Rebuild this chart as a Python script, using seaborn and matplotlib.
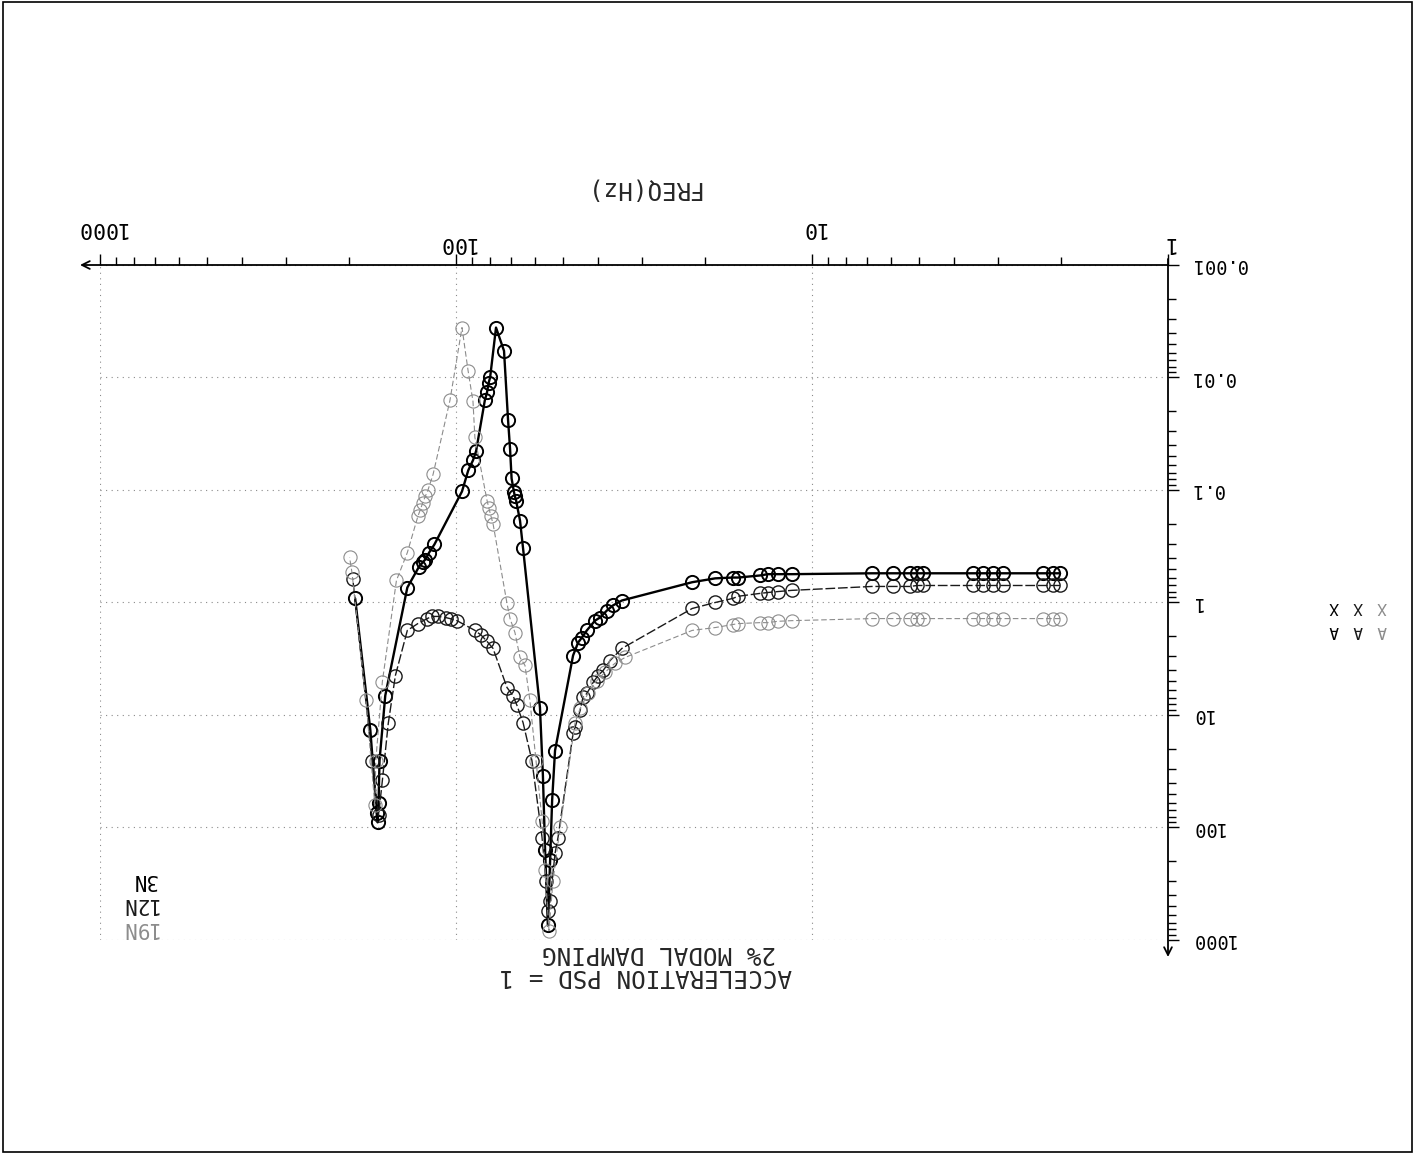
import matplotlib
matplotlib.use("Agg")
import matplotlib.pyplot as plt
from matplotlib.patches import Rectangle
from matplotlib.ticker import LogLocator, NullFormatter
import pandas as pd
import seaborn as sns

# ---- data: response PSD vs frequency for three preload cases ----
freq_3n = [2.01, 2.10, 2.24, 2.91, 3.10, 3.31, 3.53, 4.88, 5.07, 5.30, 5.92, 6.78,
           11.4, 12.5, 13.3, 14.0, 16.1, 16.7, 18.7, 21.7,
           34.2, 36.2, 37.7, 39.4, 40.7, 42.9, 44.3, 45.4, 46.9,
           52.7, 53.7, 54.4, 55.2, 56.2, 57.0, 58.1,
           64.8, 66.1, 67.8, 68.3, 68.7, 69.8, 70.5, 71.4, 73.3, 77.2,
           80.2, 81.0, 81.8, 83.0, 87.8, 89.6, 92.4, 96.2,
           115, 119, 122, 124, 127, 137, 158, 164, 165, 166, 167, 174, 192]
psd_3n = [0.55, 0.55, 0.55, 0.55, 0.55, 0.55, 0.55, 0.55, 0.55, 0.55, 0.55, 0.55,
          0.56, 0.56, 0.56, 0.575, 0.60, 0.60, 0.61, 0.66,
          0.96, 1.06, 1.18, 1.36, 1.45, 1.77, 2.05, 2.27, 2.96,
          20.7, 57.5, 196, 743, 160, 34.5, 8.58,
          0.331, 0.187, 0.124, 0.114, 0.105, 0.079, 0.0428, 0.0241, 0.0058, 0.0036,
          0.0100, 0.0112, 0.0135, 0.0160, 0.0450, 0.0545, 0.0670, 0.103,
          0.305, 0.36, 0.415, 0.44, 0.48, 0.736, 6.71, 25.4, 60.0, 90.0, 75.0, 13.7, 0.92]

freq_12n = [2.01, 2.10, 2.24, 2.91, 3.10, 3.31, 3.53, 4.88, 5.07, 5.30, 5.92, 6.78,
            11.4, 12.5, 13.3, 14.0, 16.1, 16.7, 18.7, 21.7,
            34.2, 36.9, 38.6, 39.9, 41.2, 42.9, 44.0, 44.8, 46.3, 46.9,
            51.7, 52.7, 54.4, 55.2, 55.9, 57.3, 61.2,
            64.8, 67.4, 69.2, 71.9, 78.7, 82.0, 85.0, 88.5, 99.4, 103, 107, 112, 117,
            121, 128, 137, 148, 155, 161, 165, 172, 195]
psd_12n = [0.706, 0.706, 0.706, 0.706, 0.706, 0.706, 0.706, 0.706, 0.706, 0.72, 0.72, 0.72,
           0.78, 0.80, 0.815, 0.83, 0.88, 0.92, 1.0, 1.13,
           2.56, 3.28, 4.02, 4.46, 5.14, 6.44, 6.98, 9.12, 12.9, 14.6,
           123, 170, 446, 547, 296, 123, 25.4,
           11.7, 8.23, 6.71, 5.70, 2.56, 2.2, 1.95, 1.77, 1.45, 1.40, 1.36, 1.33, 1.33,
           1.40, 1.54, 1.77, 4.46, 11.9, 38.2, 78.2, 25.4, 0.612]

freq_19n = [2.01, 2.10, 2.24, 2.91, 3.10, 3.31, 3.53, 4.88, 5.07, 5.30, 5.92, 6.78,
            11.4, 12.5, 13.3, 14.0, 16.1, 16.7, 18.7, 21.7,
            33.5, 35.8, 38.2, 40.2, 42.6, 44.8, 46.3,
            51.0, 53.4, 54.8, 56.2, 57.3, 59.6, 62.0, 64.0, 66.1, 68.3, 70.5, 71.9,
            78.7, 79.8, 80.8, 81.8, 88.5, 89.6, 92.5, 96.2,
            104, 116, 120, 122, 124, 126, 128, 137, 147, 161, 168, 169, 179, 196, 199]
psd_19n = [1.39, 1.39, 1.39, 1.39, 1.39, 1.39, 1.39, 1.39, 1.39, 1.39, 1.39, 1.39,
           1.45, 1.47, 1.51, 1.51, 1.54, 1.57, 1.67, 1.77,
           3.08, 3.48, 4.19, 4.94, 6.44, 8.75, 11.7,
           100, 296, 824, 241, 86.7, 25.4, 7.43, 3.63, 3.08, 1.85, 1.39, 1.02,
           0.199, 0.17, 0.146, 0.124, 0.0341, 0.0163, 0.00867, 0.0036,
           0.016, 0.0728, 0.101, 0.114, 0.13, 0.15, 0.172, 0.36, 0.637, 5.04, 25.4, 63.7, 7.43,
           0.541, 0.398]

case_labels = ["3N", "12N", "19N"]
x_tick_values = [1000, 100, 10, 1]
x_tick_text = ["1000", "100", "10", "1"]
y_tick_values = [0.001, 0.01, 0.1, 1, 10, 100, 1000]
y_tick_text = ["0.001", "0.01", "0.1", "1", "10", "100", "1000"]

W, H = 1417, 1159
sns.set_style("white")
plt.rcParams["font.family"] = ["DejaVu Sans Mono", "DejaVu Sans"]

fig = plt.figure(figsize=(W / 100, H / 100), dpi=100)
ax = fig.add_axes([100 / W, 1 - 940 / H, 1068 / W, 675 / H])
ax.set_xscale("log")
ax.set_yscale("log")

styles = [
    dict(color="black", lw=1.7, mew=1.4, ls="-"),
    dict(color="#1a1a1a", lw=1.0, mew=1.0, ls=(0, (7, 2))),
    dict(color="#8c8c8c", lw=0.8, mew=0.8, ls=(0, (5, 2.5))),
]
series = [(freq_3n, psd_3n), (freq_12n, psd_12n), (freq_19n, psd_19n)]
for (fx, py), lab, st in zip(series, case_labels, styles):
    df = pd.DataFrame({"freq": fx, "psd": py})
    sns.lineplot(data=df, x="freq", y="psd", ax=ax, sort=False, estimator=None,
                 color=st["color"], linewidth=st["lw"], linestyle=st["ls"],
                 marker="o", markersize=9.5, markerfacecolor="none",
                 mec=st["color"], mew=st["mew"], legend=False)

# reversed axes: 1 Hz on the right, 0.001 at the top
ax.set_xlim(1000, 1)
ax.set_ylim(1000, 0.001)
ax.set_xlabel("")
ax.set_ylabel("")

for s in ax.spines.values():
    s.set_visible(False)

ax.xaxis.set_major_locator(LogLocator(base=10, numticks=10))
ax.xaxis.set_minor_locator(LogLocator(base=10, subs=range(2, 10), numticks=20))
ax.yaxis.set_major_locator(LogLocator(base=10, numticks=10))
ax.yaxis.set_minor_locator(LogLocator(base=10, subs=range(2, 10), numticks=20))
ax.xaxis.set_major_formatter(NullFormatter())
ax.xaxis.set_minor_formatter(NullFormatter())
ax.yaxis.set_major_formatter(NullFormatter())
ax.yaxis.set_minor_formatter(NullFormatter())
ax.xaxis.tick_top()
ax.yaxis.tick_right()
ax.tick_params(which="major", direction="out", length=8, width=1.0, color="black")
ax.tick_params(which="minor", direction="out", length=6, width=1.0, color="black")
ax.grid(which="major", color="#8a8a8a", linestyle=(0, (1, 4)), linewidth=0.8)

# axis lines with arrowheads
arrow = dict(arrowstyle="->", lw=1.3, color="black", shrinkA=0, shrinkB=0,
             mutation_scale=14)
ax.annotate("", xy=(-20 / 1068, 1), xytext=(1, 1), xycoords="axes fraction",
            arrowprops=arrow, annotation_clip=False)
ax.annotate("", xy=(1, -17 / 675), xytext=(1, 1 + 6 / 675), xycoords="axes fraction",
            arrowprops=arrow, annotation_clip=False)

# tick labels, drawn upside down
xt = ax.get_xaxis_transform()
x_offsets = [1 + 37 / 675, 1 + 22 / 675, 1 + 37 / 675, 1 + 22 / 675]
for v, t, yo in zip(x_tick_values, x_tick_text, x_offsets):
    ax.text(v, yo, t, transform=xt, rotation=180, ha="center", va="center",
            fontsize=15.5, color="black", clip_on=False)
yt = ax.get_yaxis_transform()
for v, t in zip(y_tick_values, y_tick_text):
    ax.text(1 + 22 / 1068, v, t, transform=yt, rotation=180, ha="left", va="center",
            fontsize=13.5, color="black", clip_on=False)


def ftext(px, py, s, **kw):
    fig.text(px / W, 1 - py / H, s, rotation=180, **kw)


ftext(642, 188, "FREQ(Hz)", ha="center", va="center", fontsize=17.5)
ftext(646, 976, "ACCELERATION PSD = 1", ha="center", va="center", fontsize=17.5)
ftext(659, 953, "2% MODAL DAMPING", ha="center", va="center", fontsize=17.5)

legend_colors = ["black", "#1a1a1a", "#8c8c8c"]
for lab, py, c in zip(case_labels, [880, 904, 928], legend_colors):
    ftext(157, py, lab, ha="right", va="center", fontsize=15, color=c)

for px, c in zip([1334, 1358, 1382], legend_colors):
    ftext(px, 607, "X", ha="center", va="center", fontsize=11.5, color=c)
    ftext(px, 630, "A", ha="center", va="center", fontsize=11.5, color=c)

fig.patches.append(Rectangle((3 / W, 1 - 1152 / H), 1409 / W, 1150 / H,
                             transform=fig.transFigure, fill=False,
                             edgecolor="black", linewidth=1.2))

fig.savefig("out.png", dpi=100)
